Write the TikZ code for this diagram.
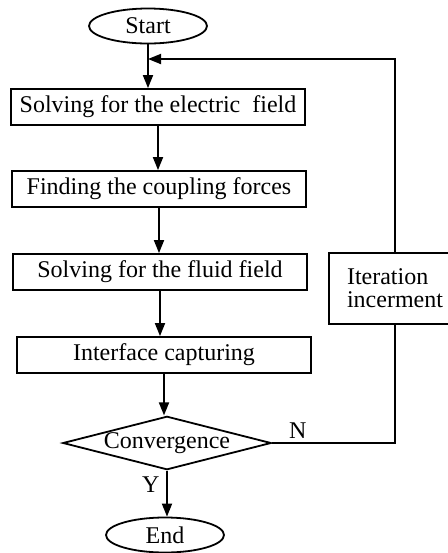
\documentclass[tikz,border=0pt]{standalone}
\usepackage{fontspec}
\setmainfont{Liberation Serif}
\usepackage{tikz}
\usetikzlibrary{shapes.geometric, arrows.meta, positioning}

\begin{document}
\begin{tikzpicture}[x=0.5pt,y=-0.5pt,->,>={Triangle[length=6.5pt,width=5pt]},
                    line width=0.9pt]
\tikzset{font=\fontsize{12pt}{14}\selectfont}
\tikzset{stepbox/.style={rectangle,draw=black,inner sep=2pt,minimum width=147pt,minimum height=18pt}}
\tikzset{term/.style={ellipse,draw=black,inner sep=0pt,minimum width=59pt,minimum height=17.5pt}}

        \clip (0,0) rectangle (448,553);

        \node[term]                                                   (start)  at (148,26)      {Start};
        \node[stepbox, node distance=40.5pt, xshift=5pt]              (b1)  [below of=start]    {Solving for the electric\ \ field};
        \node[stepbox, node distance=41pt, xshift=0.5pt]              (b2)  [below of=b1]       {Finding the coupling forces};
        \node[stepbox, node distance=41.5pt, xshift=0.5pt]            (b3)  [below of=b2]       {Solving for the fluid field};
        \node[stepbox, node distance=41.5pt, xshift=2pt]              (b4)  [below of=b3]       {Interface capturing};
        \node[diamond, draw=black, inner sep=0pt, aspect=3.9,
              node distance=44pt, xshift=1.5pt]                       (conv) [below of=b4]      {Convergence};
        \node[term, node distance=46pt, xshift=-1pt]                  (end) [below of=conv]     {End};
        \node[rectangle, draw=black, align=left, minimum width=66pt, minimum height=35.5pt,
              font=\fontsize{12pt}{11.5}\selectfont,
              node distance=117.5pt, yshift=-8.25pt]                  (iter) [right of=b3]      {Iteration\\incerment};

        \coordinate (j) at (start.south |- 0,59);

        \path[->]
        (start.south) edge node {}          (start.south |- b1.north)
        (b1.south)    edge node {}          (b1.south |- b2.north)
        (b2.south)    edge node {}          (b2.south |- b3.north)
        (b3.south)    edge node {}          (b3.south |- b4.north)
        (b4.south)    edge node {}          (b4.south |- conv.north)
        (conv.south)  edge node[left, pos=0.3] (Y) {Y}   (conv.south |- end.north)
        ; %end path

        \draw[-] (conv.east) -- node[above, pos=0.21, inner sep=2pt] (N) {N} (conv.east -| iter.south) -- (iter.south);
        \draw[->] (iter.north) |- (j);

\end{tikzpicture}
\end{document}
